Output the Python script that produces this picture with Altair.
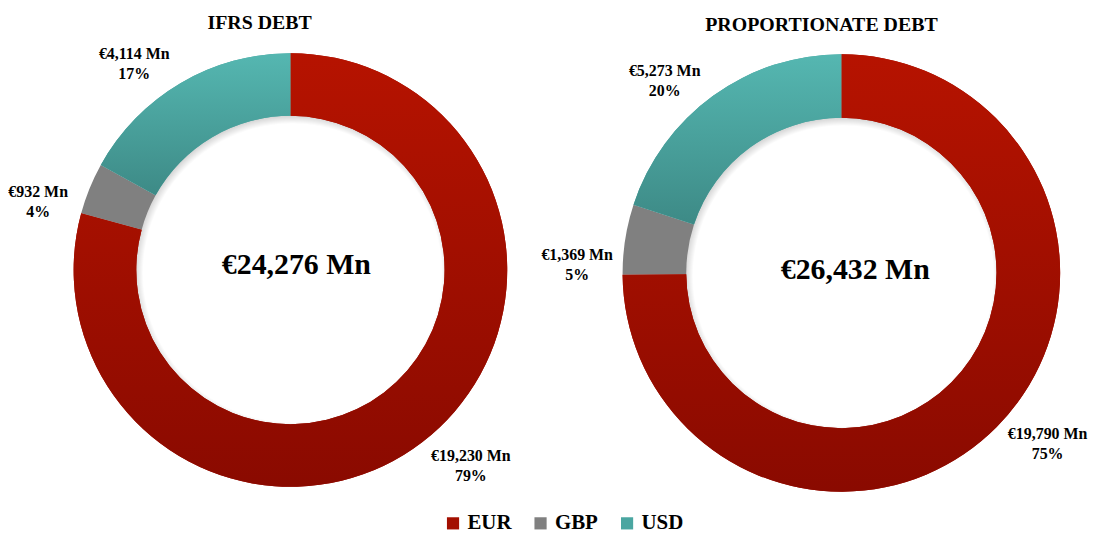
import altair as alt
import pandas as pd

currencies = ["EUR", "GBP", "USD"]
ifrs_values = [19230, 932, 4114]
prop_values = [19790, 1369, 5273]
chart_titles = ["IFRS DEBT", "PROPORTIONATE DEBT"]
solid_colors = ["#a30f00", "#808080", "#4aa6a1"]

FONT = "Liberation Serif"


def build(values, name):
    total = sum(values)
    rows = []
    cum = 0
    for cur, v in zip(currencies, values):
        rows.append(dict(
            chart=name, cur=cur, value=v,
            start=cum / total, end=(cum + v) / total,
            mid=(cum + v / 2) / total,
            label=f"€{v:,} Mn\n{round(100 * v / total)}%",
            center=f"€{total:,} Mn",
        ))
        cum += v
    return pd.DataFrame(rows)


df = pd.concat([build(ifrs_values, chart_titles[0]),
                build(prop_values, chart_titles[1])], ignore_index=True)
df["lab"] = df["mid"] - 6 / 360

red_grad = alt.LinearGradient(
    gradient="linear", x1=0, y1=0, x2=0, y2=1,
    stops=[alt.GradientStop(color="#b61300", offset=0),
           alt.GradientStop(color="#8a0a00", offset=1)])
teal_grad = alt.LinearGradient(
    gradient="linear", x1=0, y1=0, x2=0, y2=1,
    stops=[alt.GradientStop(color="#55b7b1", offset=0),
           alt.GradientStop(color="#3d8a86", offset=1)])


def shadow_grad(r_outer, r_inner):
    return alt.RadialGradient(
        gradient="radial", x1=0.5, y1=0.5, x2=0.5, y2=0.5, r1=0, r2=0.5,
        stops=[alt.GradientStop(color="rgba(0,0,0,0)", offset=r_inner / r_outer),
               alt.GradientStop(color="rgba(0,0,0,0.18)", offset=1)])


theta_scale = alt.Scale(domain=[0, 1], range=[0, 6.283185307])


def donut(name, cx, cy, r_out, r_in, tx, ty, title_x, title_y, lab_r,
          with_legend):
    base = alt.Chart(df).transform_filter(alt.datum.chart == name)
    legend = alt.Legend(title=None, orient="none",
                        legendX=433, legendY=506,
                        direction="horizontal",
                        symbolType="square", symbolSize=150,
                        symbolStrokeWidth=0,
                        labelFont=FONT, labelFontSize=21,
                        labelFontWeight="bold",
                        labelColor="#000000",
                        columnPadding=18, labelOffset=4,
                        padding=0) if with_legend else None
    color_kwargs = dict(scale=alt.Scale(domain=currencies, range=solid_colors))
    if legend is not None:
        color_kwargs["legend"] = legend
    s_out, s_in = r_in + 4, r_in - 5
    shadow = base.transform_filter(alt.datum.cur == "EUR").mark_arc(
        radius=s_out, radius2=s_in, theta=0, theta2=6.283185307,
        fill=shadow_grad(s_out, s_in), stroke=None).encode(
        x=alt.value(cx + 2), y=alt.value(cy + 3))
    arcs = base.mark_arc(radius=r_out, radius2=r_in, stroke=None).encode(
        theta=alt.Theta("start:Q", scale=theta_scale),
        theta2="end:Q",
        x=alt.value(cx), y=alt.value(cy),
        color=alt.Color("cur:N", **color_kwargs),
    )
    eur = base.transform_filter(alt.datum.cur == "EUR").mark_arc(
        radius=r_out, radius2=r_in, fill=red_grad, stroke=None).encode(
        theta=alt.Theta("start:Q", scale=theta_scale), theta2="end:Q",
        x=alt.value(cx), y=alt.value(cy))
    usd = base.transform_filter(alt.datum.cur == "USD").mark_arc(
        radius=r_out, radius2=r_in, fill=teal_grad, stroke=None).encode(
        theta=alt.Theta("start:Q", scale=theta_scale), theta2="end:Q",
        x=alt.value(cx), y=alt.value(cy))
    labels = base.mark_text(radius=lab_r, lineBreak="\n", font=FONT,
                            fontSize=16, fontWeight="bold", color="#000000",
                            lineHeight=20, align="center",
                            baseline="middle", dy=-5).encode(
        theta=alt.Theta("lab:Q", scale=theta_scale),
        x=alt.value(cx), y=alt.value(cy),
        text="label:N")
    center = base.transform_filter(alt.datum.cur == "EUR").mark_text(
        font=FONT, fontSize=30, fontWeight="bold", color="#000000",
        align="center", baseline="middle").encode(
        x=alt.value(tx), y=alt.value(ty), text="center:N")
    title = base.transform_filter(alt.datum.cur == "EUR").mark_text(
        font=FONT, fontSize=20, fontWeight="bold", color="#000000",
        align="center", baseline="middle").encode(
        x=alt.value(title_x), y=alt.value(title_y), text="chart:N")
    return [shadow, arcs, eur, usd, labels, center, title]


layers = donut(chart_titles[0], 280, 262, 218, 155, 286, 257, 249, 14, 264, True) + \
    donut(chart_titles[1], 834, 265, 220, 156, 848, 262, 814, 16, 266, False)

chart = alt.layer(*layers).properties(
    width=1080, height=500, padding=0, background="#ffffff"
).configure_view(stroke=None, strokeWidth=0)

chart.save("out.html", embed_options={"renderer": "svg", "actions": False})
